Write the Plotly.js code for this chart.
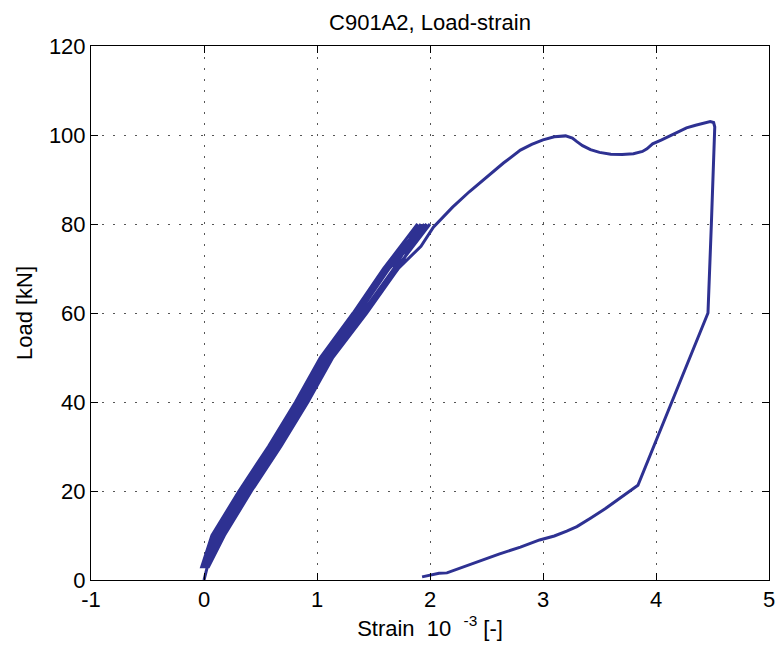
<!DOCTYPE html>
<html>
<head>
<meta charset="utf-8">
<script src="https://cdn.plot.ly/plotly-3.0.1.min.js"></script>
<style>html,body{margin:0;padding:0;background:#fff;}#chart{width:776px;height:657px;}</style>
</head>
<body>
<div id="chart"></div>
<script>
// Cyclic loading phase (strain in 10^-3, load in kN)
var cycleLoadUp   = [3, 10, 20, 30, 40, 50, 60, 70, 80];
var cycleLoadDown = [79, 70, 60, 50, 40, 30, 20, 10, 3];

var cycle1UpStrain   = [0.03, 0.17, 0.41, 0.67, 0.91, 1.13, 1.42, 1.69, 1.89];
var cycle1DownStrain = [1.86, 1.59, 1.32, 1.03, 0.81, 0.57, 0.31, 0.07, -0.02];
var cycle2UpStrain   = [0.02, 0.15, 0.39, 0.65, 0.89, 1.11, 1.40, 1.68, 1.92];
var cycle2DownStrain = [1.90, 1.61, 1.34, 1.05, 0.83, 0.59, 0.33, 0.09, 0.00];
var cycle3UpStrain   = [0.04, 0.18, 0.42, 0.68, 0.92, 1.14, 1.44, 1.72, 1.95];
var cycle3DownStrain = [1.93, 1.63, 1.36, 1.07, 0.85, 0.61, 0.35, 0.11, 0.01];
var cycle4UpStrain   = [0.03, 0.16, 0.40, 0.66, 0.90, 1.12, 1.42, 1.71, 1.97];
var cycle4DownStrain = [1.94, 1.60, 1.33, 1.04, 0.82, 0.58, 0.32, 0.08, -0.01];
var cycle5UpStrain   = [0.02, 0.14, 0.38, 0.64, 0.88, 1.10, 1.40, 1.70, 2.00];
var cycle5DownStrain = [1.97, 1.64, 1.37, 1.08, 0.86, 0.62, 0.36, 0.12, 0.02];

// Final loading to failure and unloading
var finalStrain = [0.04, 0.17, 0.41, 0.67, 0.91, 1.13, 1.43, 1.72, 1.92, 2.03, 2.20, 2.35, 2.50, 2.65, 2.80, 2.90, 3.00, 3.10, 3.20, 3.26, 3.30, 3.35, 3.42, 3.50, 3.60, 3.70, 3.80, 3.88, 3.92, 3.97, 4.05, 4.12, 4.20, 4.27, 4.35, 4.42, 4.48, 4.51, 4.52, 4.49, 4.46, 3.84, 3.70, 3.55, 3.42, 3.30, 3.21, 3.10, 2.97, 2.80, 2.61, 2.40, 2.20, 2.15, 2.08, 1.93];
var finalLoad   = [4, 10, 20, 30, 40, 50, 60, 70, 75.0, 79.3, 83.8, 87.3, 90.6, 93.7, 96.6, 97.9, 98.9, 99.6, 99.8, 99.3, 98.5, 97.6, 96.7, 96.1, 95.7, 95.6, 95.8, 96.3, 96.9, 98.0, 98.9, 99.8, 100.8, 101.6, 102.2, 102.7, 103.0, 102.8, 101.8, 80.0, 60.0, 21.3, 18.8, 16.0, 13.9, 12.0, 11.0, 9.9, 9.0, 7.4, 5.8, 3.9, 2.0, 1.6, 1.5, 0.7];

var startStrain = [0.00];
var startLoad   = [0.0];

var xTicks = [-1, 0, 1, 2, 3, 4, 5];
var yTicks = [0, 20, 40, 60, 80, 100, 120];

var xs = [].concat(startStrain,
  cycle1UpStrain, cycle1DownStrain,
  cycle2UpStrain, cycle2DownStrain,
  cycle3UpStrain, cycle3DownStrain,
  cycle4UpStrain, cycle4DownStrain,
  cycle5UpStrain, cycle5DownStrain,
  finalStrain);
var ys = [].concat(startLoad,
  cycleLoadUp, cycleLoadDown,
  cycleLoadUp, cycleLoadDown,
  cycleLoadUp, cycleLoadDown,
  cycleLoadUp, cycleLoadDown,
  cycleLoadUp, cycleLoadDown,
  finalLoad);

var font = {family: 'Liberation Sans, Arial, Helvetica, sans-serif', size: 22, color: '#000'};

var axisCommon = {
  showline: true, linecolor: '#000', linewidth: 1, mirror: 'ticks',
  ticks: 'inside', ticklen: 7, tickcolor: '#000', tickwidth: 1,
  showgrid: true, gridcolor: '#555', gridwidth: 1, griddash: '2px,9px',
  zeroline: false, tickfont: font
};

var layout = {
  width: 776, height: 657,
  paper_bgcolor: '#fff', plot_bgcolor: '#fff',
  margin: {l: 91, r: 7, t: 46, b: 77},
  showlegend: false,
  font: font,
  title: {text: 'C901A2, Load-strain', font: font, x: 0.5, xref: 'paper', y: 1 - 22/657, yref: 'container', yanchor: 'middle'},
  xaxis: Object.assign({}, axisCommon, {
    range: [-1, 5], tickvals: xTicks, ticktext: xTicks.map(String),
    title: {text: 'Strain\u00a0 10\u00a0\u00a0<sup>-3</sup> [-]', font: font, standoff: 6}
  }),
  yaxis: Object.assign({}, axisCommon, {
    range: [0, 120], tickvals: yTicks, ticktext: yTicks.map(String),
    title: {text: 'Load [kN]', font: font, standoff: 10}
  })
};

Plotly.newPlot('chart', [{
  x: xs, y: ys, type: 'scatter', mode: 'lines',
  line: {color: '#2e3192', width: 3},
  hoverinfo: 'skip'
}], layout, {staticPlot: true, displayModeBar: false});
</script>
</body>
</html>
